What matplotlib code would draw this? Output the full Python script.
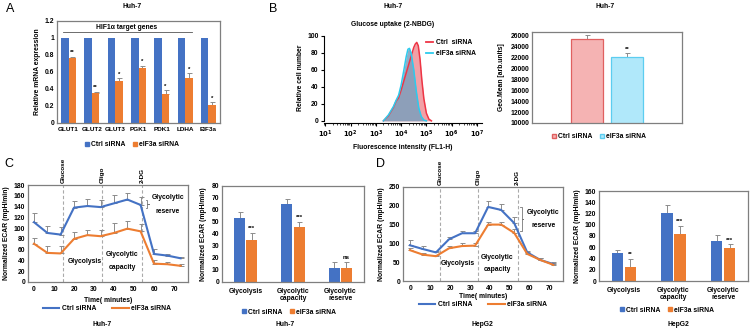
import numpy as np
import matplotlib
matplotlib.use('Agg')
import matplotlib.pyplot as plt
import matplotlib.transforms as mtransforms
from matplotlib.patches import Patch
from matplotlib.lines import Line2D

W, H = 750, 332

# ---------------- data ----------------
genes = ['GLUT1', 'GLUT2', 'GLUT3', 'PGK1', 'PDK1', 'LDHA', 'EIF3a']
mrna_ctrl = [1, 1, 1, 1, 1, 1, 1]
mrna_si = [0.77, 0.355, 0.49, 0.645, 0.345, 0.535, 0.21]
mrna_si_err = [0.01, 0.01, 0.035, 0.03, 0.04, 0.05, 0.035]
mrna_stars = ['**', '**', '*', '*', '*', '*', '*']

# flow histogram (log10 intensity, relative count)
hist_ctrl_log = [3.3, 3.5, 3.7, 3.8, 3.9, 4.0, 4.1, 4.2, 4.3, 4.4, 4.5, 4.56, 4.62, 4.68, 4.75, 4.82, 4.9, 5.0, 5.1, 5.2]
hist_ctrl_cnt = [0, 6, 16, 23, 27, 36, 46, 56, 66, 76, 86, 90, 92, 88, 72, 48, 26, 9, 2, 0]
hist_si_log = [3.3, 3.5, 3.7, 3.8, 3.9, 4.0, 4.1, 4.2, 4.27, 4.33, 4.4, 4.5, 4.6, 4.7, 4.8, 4.9, 5.0]
hist_si_cnt = [0, 7, 17, 24, 30, 42, 58, 75, 84, 85, 79, 60, 35, 15, 5, 1, 0]

geo_labels = ['Ctrl siRNA', 'eIF3a siRNA']
geo_mean = [25400, 22000]
geo_err = [600, 750]

# ECAR time courses
t_huh7 = [0, 6.7, 13.3, 20, 26.7, 33.3, 40, 46.7, 53.3, 60, 66.7, 73.3]
ecar_huh7_ctrl = [111, 91, 88, 138, 141, 139, 146, 153, 143, 52, 49, 44]
ecar_huh7_ctrl_err = [17, 13, 14, 12, 13, 14, 15, 13, 15, 9, 3, 3]
ecar_huh7_si = [71, 54, 53, 80, 87, 85, 91, 99, 94, 34, 33, 30]
ecar_huh7_si_err = [11, 13, 14, 12, 10, 11, 18, 14, 13, 7, 5, 4]

t_hepg2 = [-0.5, 6.1, 12.7, 19.3, 25.9, 32.5, 39.1, 45.7, 52.3, 58.9, 65.5, 72.1]
ecar_hepg2_ctrl = [95, 85, 76, 111, 127, 127, 197, 189, 154, 76, 56, 45]
ecar_hepg2_ctrl_err = [14, 9, 5, 6, 7, 6, 16, 15, 15, 4, 5, 5]
ecar_hepg2_si = [82, 70, 66, 87, 93, 94, 150, 150, 128, 72, 56, 43]
ecar_hepg2_si_err = [6, 5, 4, 7, 8, 6, 6, 6, 10, 3, 4, 4]

inject_names = ['Glucose', 'Oligo', '2-DG']
inject_times = [14.7, 34, 54]

glyco_cats = ['Glycolysis', 'Glycolytic\ncapacity', 'Glycolytic\nreserve']
glyco_huh7_ctrl = [53, 65, 12]
glyco_huh7_ctrl_err = [5, 4, 5]
glyco_huh7_si = [35, 46, 11.5]
glyco_huh7_si_err = [6, 4, 5]
glyco_huh7_stars = ['***', '***', 'ns']
glyco_hepg2_ctrl = [50, 121, 72]
glyco_hepg2_ctrl_err = [5, 14, 10]
glyco_hepg2_si = [25, 84, 58]
glyco_hepg2_si_err = [14, 14, 7]
glyco_hepg2_stars = ['**', '***', '***']

BLUE = '#4472c4'
ORANGE = '#ed7d31'
ERR = '#8c8c8c'
FRAME = '#7f7f7f'
FS = 4.9

plt.rcParams['font.family'] = ['Liberation Sans', 'DejaVu Sans']
plt.rcParams['font.weight'] = 'bold'
plt.rcParams['axes.labelweight'] = 'bold'
plt.rcParams['font.size'] = FS


def px_axes(fig, left, top, right, bottom):
    return fig.add_axes([left / W, 1 - bottom / H, (right - left) / W, (bottom - top) / H])


def ftext(fig, x, y, s, **kw):
    kw.setdefault('ha', 'center')
    kw.setdefault('va', 'center')
    kw.setdefault('fontsize', FS)
    fig.text(x / W, 1 - y / H, s, **kw)


def excel_frame(ax):
    for sp in ax.spines.values():
        sp.set_color(FRAME)
        sp.set_linewidth(0.9)
    ax.tick_params(length=0, pad=2, labelsize=FS)


def plus_err(ax, x, y, err):
    ax.errorbar(x, y, yerr=[np.zeros(len(err)), err], fmt='none', ecolor=ERR,
                elinewidth=0.7, capsize=1.8, capthick=0.7, zorder=1)


def legend_at(ax, fig, handles, labels, x, y, **kw):
    ax.legend(handles, labels, loc='center', bbox_to_anchor=(x / W, 1 - y / H),
              bbox_transform=fig.transFigure, ncol=2, frameon=False, fontsize=FS,
              borderpad=0, **kw)


fig = plt.figure(figsize=(W / 100, H / 100), dpi=100)

# ---------------- A ----------------
ax = px_axes(fig, 57, 21, 220, 123)
excel_frame(ax)
x = np.arange(len(genes))
bw = 0.32
ax.bar(x - bw / 2, mrna_ctrl, bw, color=BLUE, zorder=2)
ax.bar(x + bw / 2, mrna_si, bw, color=ORANGE, zorder=2)
plus_err(ax, x + bw / 2, mrna_si, mrna_si_err)
for xi, v, e, s in zip(x, mrna_si, mrna_si_err, mrna_stars):
    ax.text(xi + bw / 2, v + e + 0.02, s, ha='center', va='bottom', fontsize=4.3)
ax.set_xlim(-0.5, len(genes) - 0.5)
ax.set_ylim(0, 1.2)
ax.set_yticks(np.arange(0, 1.21, 0.2))
ax.set_yticklabels(['0', '0.2', '0.4', '0.6', '0.8', '1', '1.2'])
ax.set_xticks(x)
ax.set_xticklabels(genes, fontsize=4.6)
ax.tick_params(axis='x', pad=3)
ax.plot([x[0] - 0.25, x[5] + 0.3], [1.065, 1.065], color='#555555', lw=0.6)
ax.text((x[0] + x[5]) / 2, 1.125, 'HIF1\u03b1 target genes', ha='center', va='center', fontsize=FS)
ax.set_ylabel('Relative mRNA expression', fontsize=FS, labelpad=3)
legend_at(ax, fig, [Patch(color=BLUE), Patch(color=ORANGE)], ['Ctrl siRNA', 'eIF3a siRNA'], 132, 145,
          handlelength=0.6, handleheight=0.6, handletextpad=0.3, columnspacing=1.2)
ftext(fig, 132, 6, 'Huh-7')
ftext(fig, 10, 9, 'A', fontsize=9, fontweight='normal')

# ---------------- B histogram ----------------
ax = px_axes(fig, 324, 33, 482, 123)
xc = np.power(10.0, hist_ctrl_log)
xs = np.power(10.0, hist_si_log)
ax.fill_between(xc, hist_ctrl_cnt, color='#ee8088', alpha=0.75, lw=0)
ax.fill_between(xs, hist_si_cnt, color='#7b9fbd', alpha=0.85, lw=0)
ax.plot(xc, hist_ctrl_cnt, color='#ee3545', lw=1.1)
ax.plot(xs, hist_si_cnt, color='#2ccbee', lw=1.1)
ax.set_xscale('log')
ax.set_xlim(10 ** 0.95, 10 ** 7.2)
ax.set_ylim(-2.5, 103)
ax.set_xticks([10.0 ** k for k in range(1, 8)])
ax.set_xticklabels(['$\\mathbf{10^{%d}}$' % k for k in range(1, 8)], fontsize=4.3)
ax.xaxis.set_minor_locator(matplotlib.ticker.LogLocator(base=10, subs=np.arange(2, 10), numticks=20))
ax.xaxis.set_minor_formatter(matplotlib.ticker.NullFormatter())
ax.set_yticks([0, 20, 40, 60, 80, 100])
for s in ['top', 'right']:
    ax.spines[s].set_visible(False)
ax.spines['left'].set_bounds(0, 100)
ax.tick_params(which='major', length=2.5, width=0.8, pad=1.5, labelsize=FS)
ax.tick_params(which='minor', length=1.3, width=0.5)
ax.set_xlabel('Fluorescence intensity (FL1-H)', fontsize=FS, labelpad=3)
ax.set_ylabel('Relative cell number', fontsize=FS, labelpad=2)
ax.legend([Line2D([], [], color='#ee3545', lw=1.3), Line2D([], [], color='#2ccbee', lw=1.3)],
          ['Ctrl  siRNA', 'eIF3a siRNA'], loc='upper right', bbox_to_anchor=(1.0, 1.0),
          frameon=False, fontsize=FS, handlelength=1.0, handletextpad=0.4, labelspacing=0.6)
ftext(fig, 393, 6, 'Huh-7')
ftext(fig, 393, 24, 'Glucose uptake (2-NBDG)')
ftext(fig, 273, 9, 'B', fontsize=9, fontweight='normal')

# ---------------- B geo mean ----------------
ax = px_axes(fig, 532, 32, 682, 123)
excel_frame(ax)
gx = np.array([0.0, 1.0])
ax.bar(gx, geo_mean, 0.8, bottom=0, color=['#f5b3b3', '#b0e8fa'],
       edgecolor=['#e06060', '#5ccdf0'], lw=0.9, zorder=2)
plus_err(ax, gx, geo_mean, geo_err)
ax.text(gx[1], geo_mean[1] + geo_err[1] + 150, '**', ha='center', va='bottom', fontsize=4.3)
ax.set_xlim(-1.35, 2.35)
ax.set_ylim(10000, 26600)
ax.set_yticks(np.arange(10000, 26001, 2000))
ax.set_xticks([])
ax.set_ylabel('Geo.Mean [arb.units]', fontsize=FS, labelpad=4)
legend_at(ax, fig, [Patch(facecolor='#f5b3b3', edgecolor='#e06060'), Patch(facecolor='#b0e8fa', edgecolor='#5ccdf0')],
          geo_labels, 599, 137, handlelength=0.6, handleheight=0.6, handletextpad=0.3, columnspacing=1.2)
ftext(fig, 605, 6, 'Huh-7')


# ---------------- ECAR time courses ----------------
def ecar_panel(box, t, c, ce, s, se, ymax, ystep, xlim, notes, bracket):
    ax = px_axes(fig, *box)
    excel_frame(ax)
    plus_err(ax, t, c, ce)
    plus_err(ax, t, s, se)
    ax.plot(t, c, color=BLUE, lw=1.5, zorder=3)
    ax.plot(t, s, color=ORANGE, lw=1.5, zorder=3)
    trans = mtransforms.blended_transform_factory(ax.transData, ax.transAxes)
    for name, ti in zip(inject_names, inject_times):
        ax.axvline(ti, color='#aaaaaa', lw=0.8, ls=(0, (3, 2)), zorder=0)
        ax.text(ti, 1.02, name, rotation=90, ha='center', va='bottom', fontsize=4.6, transform=trans)
    for tx, ty, txt in notes:
        ax.text(tx, ty, txt, ha='center', va='center', fontsize=FS)
    bx, lo, hi = bracket
    d = 0.8
    ax.plot([bx, bx + d, bx + d, bx + 2 * d, bx + d, bx + d, bx],
            [hi, hi, (hi + lo) / 2, (hi + lo) / 2, (hi + lo) / 2, lo, lo], color='#777777', lw=0.6)
    ax.set_xlim(*xlim)
    ax.set_ylim(0, ymax)
    ax.set_yticks(np.arange(0, ymax + 1, ystep))
    ax.set_xticks(np.arange(0, 71, 10))
    ax.tick_params(axis='x', pad=3)
    ax.set_ylabel('Normalized ECAR (mpH/min)', fontsize=FS, labelpad=3)
    return ax


ax = ecar_panel((28, 185, 188, 282), t_huh7, ecar_huh7_ctrl, ecar_huh7_ctrl_err,
                ecar_huh7_si, ecar_huh7_si_err, 180, 20, (-3, 77),
                [(25.5, 38, 'Glycolysis'), (44, 51, 'Glycolytic'), (44, 27, 'capacity'),
                 (67, 156, 'Glycolytic'), (67, 130, 'reserve')],
                (55.8, 138, 152))
ax.set_xlabel('Time( minutes)', fontsize=FS, labelpad=3)
legend_at(ax, fig, [Line2D([], [], color=BLUE, lw=1.5), Line2D([], [], color=ORANGE, lw=1.5)],
          ['Ctrl siRNA', 'eIF3a siRNA'], 107, 309, handlelength=2.4, handletextpad=0.4, columnspacing=2.4)
ftext(fig, 102, 325, 'Huh-7')
ftext(fig, 9, 164, 'C', fontsize=9, fontweight='normal')

ax = ecar_panel((403, 187, 563, 281), t_hepg2, ecar_hepg2_ctrl, ecar_hepg2_ctrl_err,
                ecar_hepg2_si, ecar_hepg2_si_err, 250, 50, (-4, 77),
                [(24, 46, 'Glycolysis'), (43.8, 62, 'Glycolytic'), (43.8, 30, 'capacity'),
                 (67, 181, 'Glycolytic'), (67, 148, 'reserve')],
                (55.3, 133, 198))
ax.set_xlabel('Time( minutes)', fontsize=FS, labelpad=0.5)
legend_at(ax, fig, [Line2D([], [], color=BLUE, lw=1.5), Line2D([], [], color=ORANGE, lw=1.5)],
          ['Ctrl siRNA', 'eIF3a siRNA'], 483, 305, handlelength=2.4, handletextpad=0.4, columnspacing=2.4)
ftext(fig, 482, 325, 'HepG2')
ftext(fig, 380, 164, 'D', fontsize=9, fontweight='normal')


# ---------------- glycolysis bar panels ----------------
def glyco_panel(box, c, ce, s, se, stars, ymax, ystep, legend_xy, cell, cell_xy):
    ax = px_axes(fig, *box)
    excel_frame(ax)
    x = np.arange(len(glyco_cats))
    bw = 0.23
    off = 0.13
    ax.bar(x - off, c, bw, color=BLUE, zorder=2)
    ax.bar(x + off, s, bw, color=ORANGE, zorder=2)
    plus_err(ax, x - off, c, ce)
    plus_err(ax, x + off, s, se)
    for xi, v, e, st in zip(x, s, se, stars):
        ax.text(xi + off, v + e + ymax * 0.02, st, ha='center', va='bottom', fontsize=4.3)
    ax.set_xlim(-0.5, len(glyco_cats) - 0.5)
    ax.set_ylim(0, ymax)
    ax.set_yticks(np.arange(0, ymax + 1, ystep))
    ax.set_xticks(x)
    ax.set_xticklabels(glyco_cats, linespacing=1.1)
    ax.tick_params(axis='x', pad=4)
    ax.set_ylabel('Normalized ECAR (mpH/min)', fontsize=FS, labelpad=3)
    legend_at(ax, fig, [Patch(color=BLUE), Patch(color=ORANGE)], ['Ctrl siRNA', 'eIF3a siRNA'],
              *legend_xy, handlelength=0.6, handleheight=0.6, handletextpad=0.3, columnspacing=1.2)
    ftext(fig, *cell_xy, cell)


glyco_panel((222, 186, 364, 282), glyco_huh7_ctrl, glyco_huh7_ctrl_err, glyco_huh7_si,
            glyco_huh7_si_err, glyco_huh7_stars, 80, 10, (289, 312), 'Huh-7', (285, 325))
glyco_panel((599, 191, 748, 281), glyco_hepg2_ctrl, glyco_hepg2_ctrl_err, glyco_hepg2_si,
            glyco_hepg2_si_err, glyco_hepg2_stars, 160, 20, (667, 310), 'HepG2', (678, 324))

fig.savefig('out.png', dpi=100)
